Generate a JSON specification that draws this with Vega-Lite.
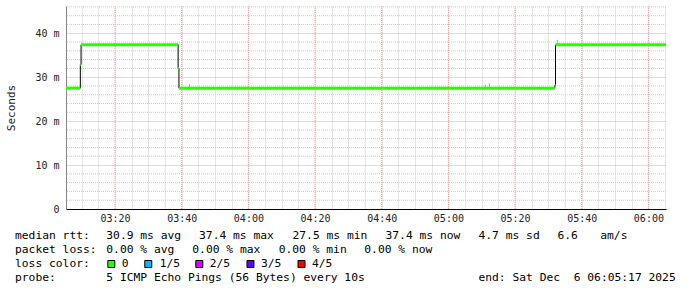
{
  "$schema": "https://vega.github.io/schema/vega-lite/v6.json",
  "padding": 5,
  "spacing": 7,
  "config": {"view": {"stroke": null}},
  "vconcat": [
    {
      "width": 600,
      "height": 203,
      "data": {
        "values": [
          {"t": "2025-12-06T03:05:17", "t2": "2025-12-06T03:09:35", "rtt": 0.0275},
          {"t": "2025-12-06T03:09:35", "t2": "2025-12-06T03:09:48", "rtt": 0.0329},
          {"t": "2025-12-06T03:09:48", "t2": "2025-12-06T03:38:55", "rtt": 0.0374},
          {"t": "2025-12-06T03:38:55", "t2": "2025-12-06T03:39:10", "rtt": 0.0320},
          {"t": "2025-12-06T03:39:10", "t2": "2025-12-06T05:31:55", "rtt": 0.0275},
          {"t": "2025-12-06T05:31:55", "t2": "2025-12-06T05:32:08", "rtt": 0.0281},
          {"t": "2025-12-06T05:32:08", "t2": "2025-12-06T06:05:17", "rtt": 0.0374}
        ],
        "format": {"parse": {"t": "date", "t2": "date"}}
      },
      "layer": [
        {
          "data": {
            "values": [
              {"t": "2025-12-06T03:20:00"},
              {"t": "2025-12-06T03:40:00"},
              {"t": "2025-12-06T04:00:00"},
              {"t": "2025-12-06T04:20:00"},
              {"t": "2025-12-06T04:40:00"},
              {"t": "2025-12-06T05:00:00"},
              {"t": "2025-12-06T05:20:00"},
              {"t": "2025-12-06T05:40:00"},
              {"t": "2025-12-06T06:00:00"}
            ],
            "format": {"parse": {"t": "date"}}
          },
          "mark": {"type": "rule", "color": "#e8a4a4", "strokeWidth": 1, "strokeDash": [1, 1]},
          "encoding": {
            "x": {
              "field": "t", "type": "temporal",
              "scale": {"nice": false},
              "axis": {
                "title": null,
                "tickCount": 36,
                "labelExpr": "minutes(datum.value) % 20 === 0 ? timeFormat(datum.value, '%H:%M') : ''",
                "labelOverlap": false,
                "labelFlush": false,
                "labelFont": "DejaVu Sans Mono",
                "labelFontSize": 10,
                "labelColor": "#222222",
                "labelPadding": 4,
                "ticks": false,
                "domainColor": "#000000",
                "grid": true,
                "gridDash": [1, 1],
                "gridOpacity": 1,
                "gridColor": "#cccccc"
              }
            }
          }
        },
        {
          "data": {
            "values": [
              {"rtt": 0.002}, {"rtt": 0.004}, {"rtt": 0.006}, {"rtt": 0.008},
              {"rtt": 0.012}, {"rtt": 0.014}, {"rtt": 0.016}, {"rtt": 0.018},
              {"rtt": 0.022}, {"rtt": 0.024}, {"rtt": 0.026}, {"rtt": 0.028},
              {"rtt": 0.032}, {"rtt": 0.034}, {"rtt": 0.036}, {"rtt": 0.038},
              {"rtt": 0.042}, {"rtt": 0.044}, {"rtt": 0.046}
            ]
          },
          "mark": {"type": "rule", "color": "#cccccc", "strokeWidth": 1, "strokeDash": [1, 1]},
          "encoding": {
            "y": {
              "field": "rtt", "type": "quantitative",
              "scale": {"domain": [0, 0.0462], "nice": false, "zero": false},
              "axis": {
                "title": "Seconds",
                "titleFont": "DejaVu Sans Mono",
                "titleFontSize": 11,
                "titleFontWeight": "normal",
                "titleColor": "#222222",
                "titlePadding": 18,
                "values": [0, 0.01, 0.02, 0.03, 0.04],
                "labelExpr": "datum.value === 0 ? '0' : round(datum.value * 1000) + ' m'",
                "labelOverlap": false,
                "labelFlush": false,
                "labelFont": "DejaVu Sans Mono",
                "labelFontSize": 10,
                "labelColor": "#222222",
                "labelPadding": 7,
                "ticks": false,
                "domainColor": "#888888",
                "grid": true,
                "gridDash": [1, 1],
                "gridOpacity": 1,
                "gridColor": "#e8a4a4"
              }
            }
          }
        },
        {
          "mark": {"type": "line", "interpolate": "step-after", "color": "#000000", "strokeWidth": 1},
          "encoding": {
            "x": {"field": "t", "type": "temporal"},
            "y": {"field": "rtt", "type": "quantitative"}
          }
        },
        {
          "data": {
            "values": [
              {"t": "2025-12-06T03:42:17", "lo": 0.0275, "hi": 0.0284},
              {"t": "2025-12-06T05:11:05", "lo": 0.0275, "hi": 0.0283},
              {"t": "2025-12-06T05:12:17", "lo": 0.0275, "hi": 0.0286},
              {"t": "2025-12-06T05:32:41", "lo": 0.0374, "hi": 0.0385}
            ],
            "format": {"parse": {"t": "date"}}
          },
          "mark": {"type": "rule", "color": "#999999", "strokeWidth": 1},
          "encoding": {
            "x": {"field": "t", "type": "temporal"},
            "y": {"field": "lo", "type": "quantitative"},
            "y2": {"field": "hi"}
          }
        },
        {
          "mark": {"type": "rule", "color": "#26ff00", "strokeWidth": 3},
          "encoding": {
            "x": {"field": "t", "type": "temporal"},
            "x2": {"field": "t2"},
            "y": {"field": "rtt", "type": "quantitative"}
          }
        }
      ]
    },
    {
      "width": 600,
      "height": 42,
      "layer": [
        {
          "data": {"values": [
            {"line": 0, "col": 0, "text": "median rtt:"},
            {"line": 0, "col": 13.04, "text": "30.9 ms avg"},
            {"line": 0, "col": 26.29, "text": "37.4 ms max"},
            {"line": 0, "col": 39.64, "text": "27.5 ms min"},
            {"line": 0, "col": 52.93, "text": "37.4 ms now"},
            {"line": 0, "col": 66.21, "text": "4.7 ms sd"},
            {"line": 0, "col": 77.5, "text": "6.6"},
            {"line": 0, "col": 83.61, "text": "am/s"},
            {"line": 1, "col": 0, "text": "packet loss:"},
            {"line": 1, "col": 13.04, "text": "0.00 % avg"},
            {"line": 1, "col": 25.33, "text": "0.00 % max"},
            {"line": 1, "col": 37.67, "text": "0.00 % min"},
            {"line": 1, "col": 49.9, "text": "0.00 % now"},
            {"line": 2, "col": 0, "text": "loss color:"},
            {"line": 2, "col": 15.24, "text": "0"},
            {"line": 2, "col": 20.67, "text": "1/5"},
            {"line": 2, "col": 27.81, "text": "2/5"},
            {"line": 2, "col": 35.14, "text": "3/5"},
            {"line": 2, "col": 42.43, "text": "4/5"},
            {"line": 3, "col": 0, "text": "probe:"},
            {"line": 3, "col": 13.04, "text": "5 ICMP Echo Pings (56 Bytes) every 10s"},
            {"line": 3, "col": 66.21, "text": "end: Sat Dec"},
            {"line": 3, "col": 79.81, "text": "6 06:05:17 2025"}
          ]},
          "mark": {"type": "text", "align": "left", "baseline": "middle", "font": "DejaVu Sans Mono", "fontSize": 11.3, "color": "#000000"},
          "encoding": {
            "x": {"field": "col", "type": "quantitative", "scale": {"domain": [7.2857, 93], "nice": false, "zero": false}, "axis": null},
            "y": {"field": "line", "type": "quantitative", "scale": {"domain": [0, 3], "reverse": true, "nice": false, "zero": false}, "axis": null},
            "text": {"field": "text"}
          }
        },
        {
          "data": {"values": [
            {"line": 2, "col": 13.76, "loss": "0"},
            {"line": 2, "col": 19.04, "loss": "1/5"},
            {"line": 2, "col": 26.33, "loss": "2/5"},
            {"line": 2, "col": 33.64, "loss": "3/5"},
            {"line": 2, "col": 40.93, "loss": "4/5"}
          ]},
          "mark": {"type": "point", "shape": "square", "filled": true, "size": 49, "stroke": "#000000", "strokeWidth": 1, "opacity": 1},
          "encoding": {
            "x": {"field": "col", "type": "quantitative"},
            "y": {"field": "line", "type": "quantitative"},
            "color": {"field": "loss", "type": "nominal", "scale": {"domain": ["0", "1/5", "2/5", "3/5", "4/5"], "range": ["#26ff00", "#00b8ff", "#dd00ff", "#5e00ff", "#ff0000"]}, "legend": null}
          }
        }
      ]
    }
  ]
}
